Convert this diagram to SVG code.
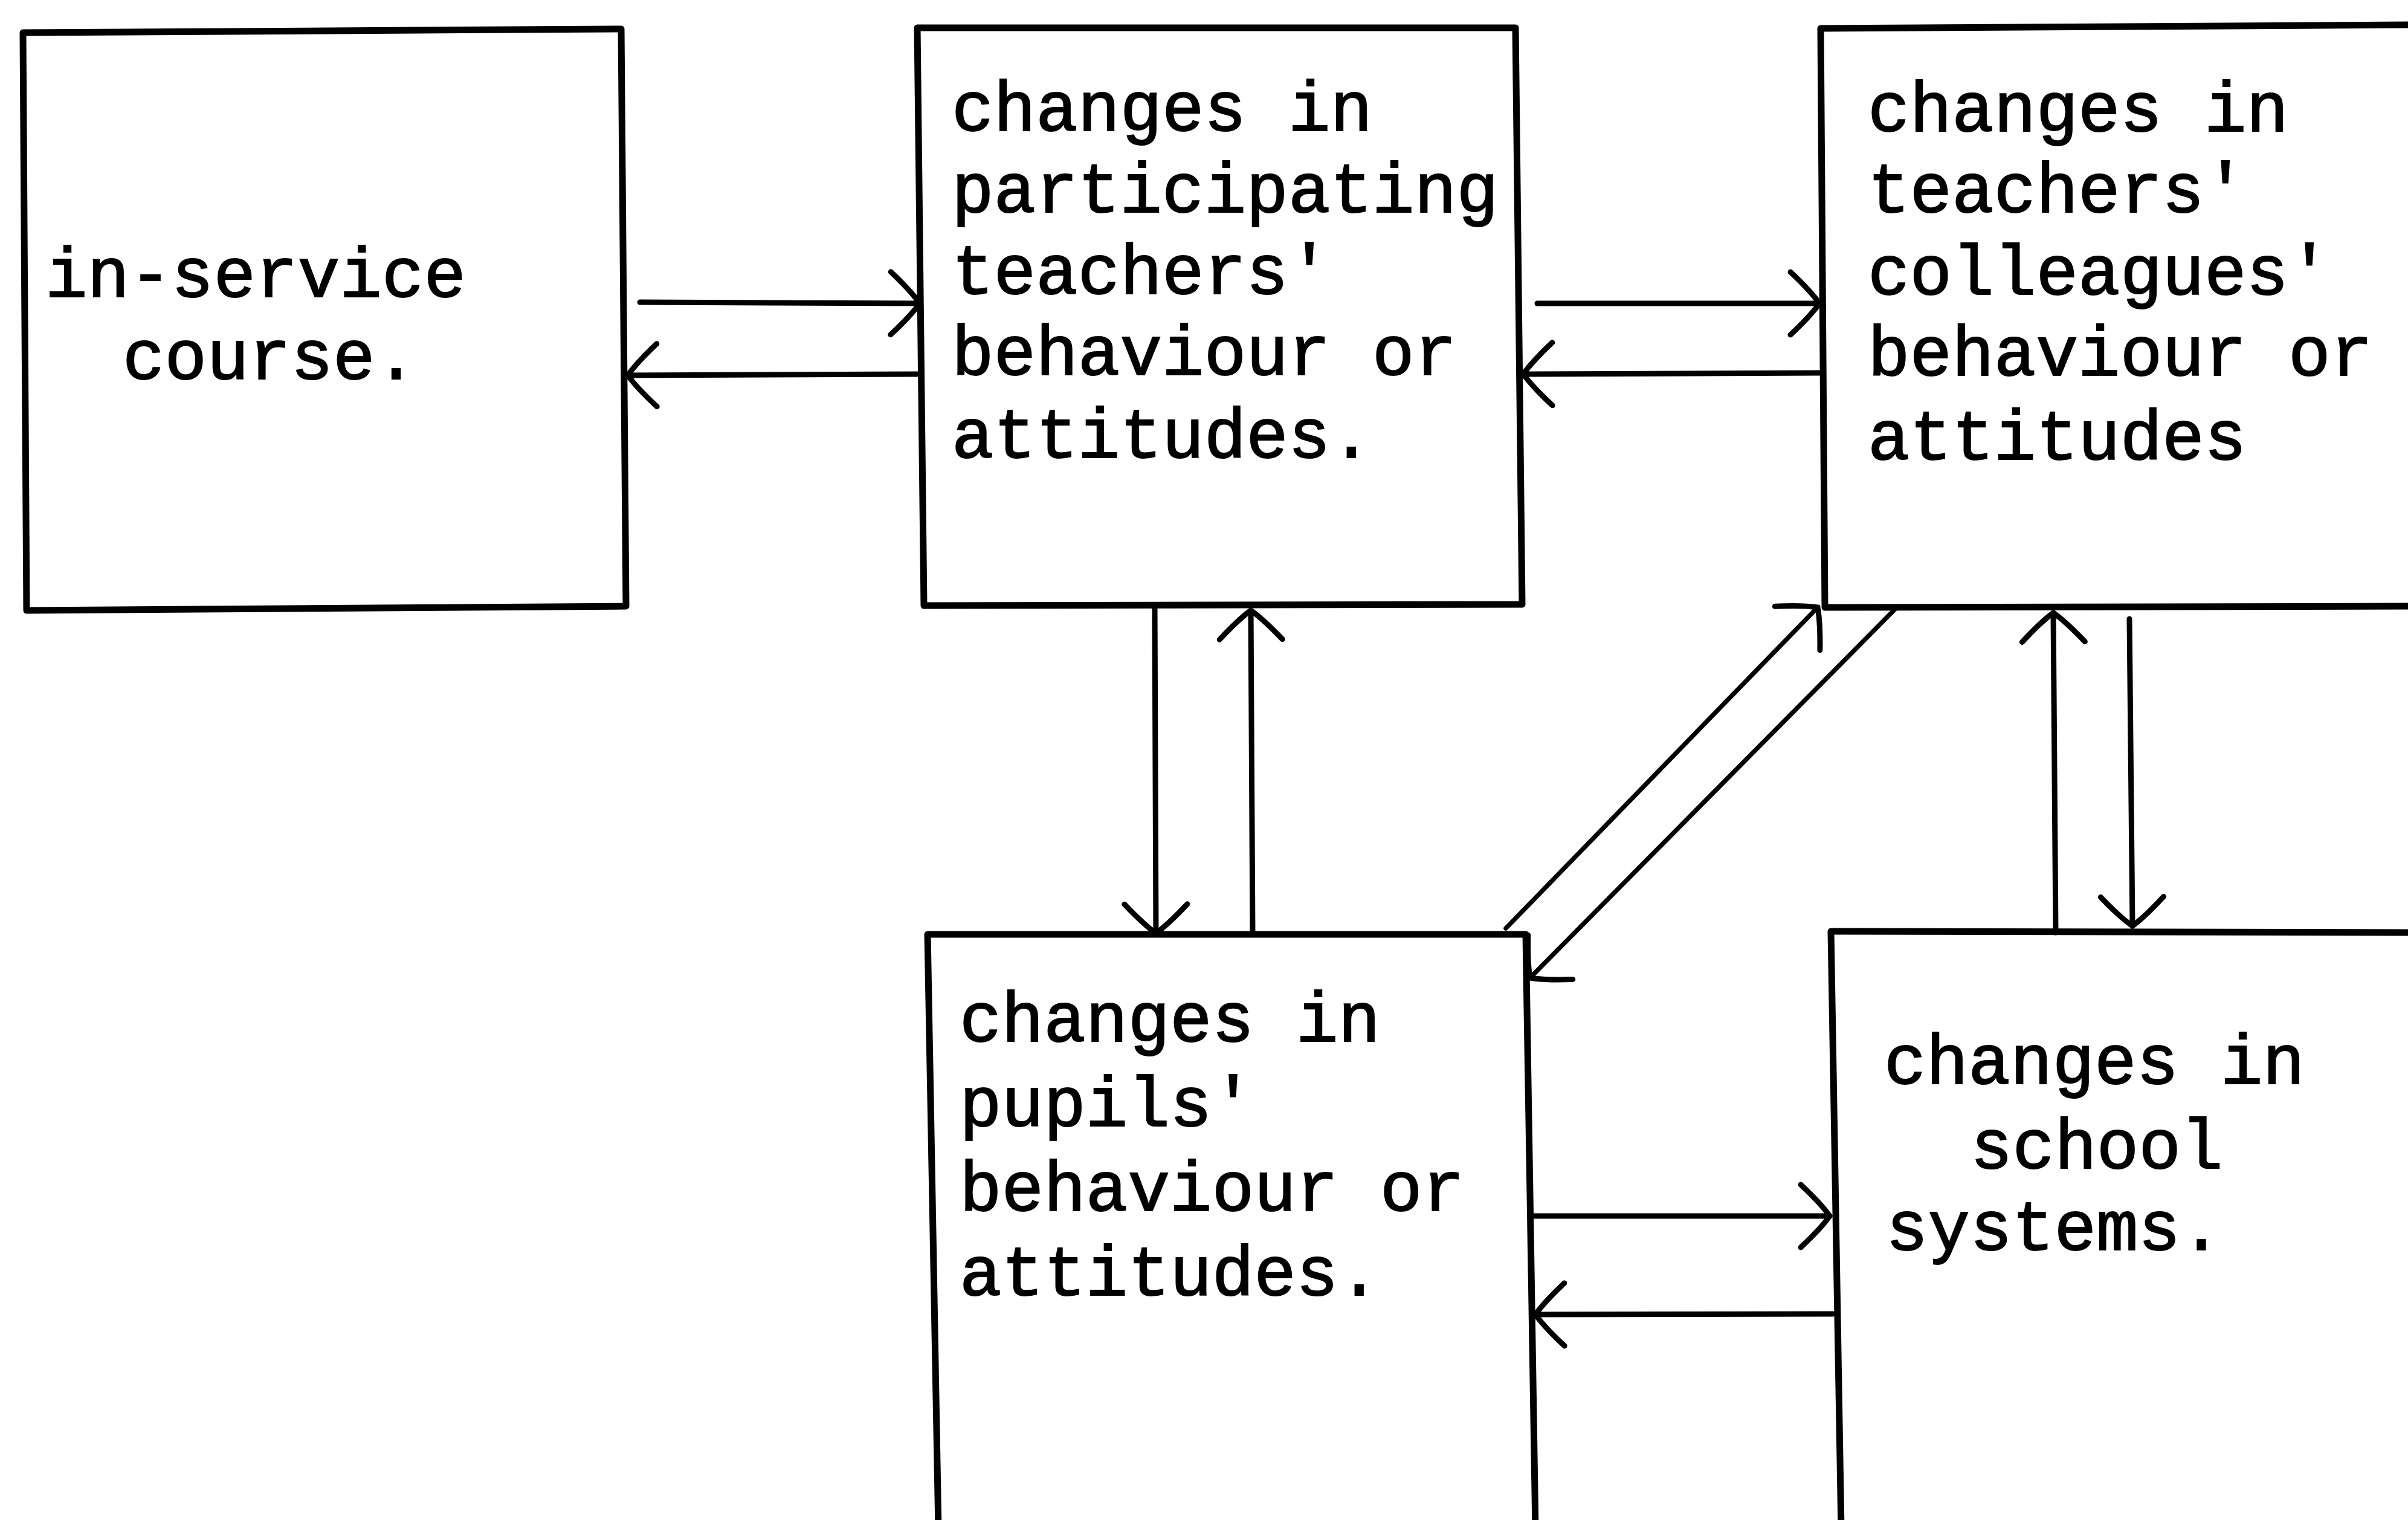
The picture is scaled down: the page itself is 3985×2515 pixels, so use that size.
<svg xmlns="http://www.w3.org/2000/svg" width="3985" height="2515" viewBox="0 0 3985 2515">
<style>
.box { fill: none; stroke: #000; stroke-width: 11; stroke-linejoin: round; }
.t { font-family: "Liberation Mono", "Courier New", monospace; font-size: 116px; font-weight: normal; fill: #000; stroke: #000; stroke-width: 2; }
.c { fill: none; stroke: #000; stroke-width: 9; stroke-linecap: round; }
.d { fill: none; stroke: #000; stroke-width: 7.5; stroke-linecap: round; }
</style>
<defs>
<marker id="ah" markerUnits="userSpaceOnUse" markerWidth="120" markerHeight="140" viewBox="-70 -70 90 140" refX="0" refY="0" orient="auto" overflow="visible">
<path d="M-48,-52 Q-14,-20 0,0 Q-14,20 -48,52" fill="none" stroke="#000" stroke-width="9" stroke-linecap="round"/>
</marker>
</defs>
<rect width="3985" height="2515" fill="#fff"/>

<g id="node-inservice">
<path class="box" d="M38,54 L1028,48 L1036,1003 L44,1010 Z"/>
<text class="t" x="75" y="491">in-service</text>
<text class="t" x="203" y="627">course.</text>
</g>

<g id="node-participating">
<path class="box" d="M1518,46 L2508,46 L2519,1000 L1529,1002 Z"/>
<text class="t" x="1575" y="216">changes in</text>
<text class="t" x="1575" y="351">participating</text>
<text class="t" x="1575" y="486">teachers'</text>
<text class="t" x="1575" y="620">behaviour or</text>
<text class="t" x="1575" y="757">attitudes.</text>
</g>

<g id="node-colleagues">
<path class="box" d="M4000,41 L3013,47 L3020,1005 L4000,1003"/>
<text class="t" x="3091" y="217">changes in</text>
<text class="t" x="3091" y="351">teachers'</text>
<text class="t" x="3091" y="487">colleagues'</text>
<text class="t" x="3091" y="621">behaviour or</text>
<text class="t" x="3091" y="760">attitudes</text>
</g>

<g id="node-pupils">
<path class="box" d="M1553,2530 L1535,1546 L2525,1546 L2541,2530"/>
<text class="t" x="1588" y="1723">changes in</text>
<text class="t" x="1588" y="1863">pupils'</text>
<text class="t" x="1588" y="2003">behaviour or</text>
<text class="t" x="1588" y="2143">attitudes.</text>
</g>

<g id="node-school">
<path class="box" d="M3047,2530 L3030,1541 L4000,1543"/>
<text class="t" x="3118" y="1793">changes in</text>
<text class="t" x="3261" y="1933">school</text>
<text class="t" x="3121" y="2068">systems.</text>
</g>

<g id="connectors">
<line class="c" x1="1059" y1="500" x2="1522" y2="502" marker-end="url(#ah)"/>
<line class="c" x1="1518" y1="619" x2="1039" y2="621" marker-end="url(#ah)"/>
<line class="c" x1="2544" y1="502" x2="3011" y2="502" marker-end="url(#ah)"/>
<line class="c" x1="3013" y1="617" x2="2521" y2="619" marker-end="url(#ah)"/>
<line class="c" x1="1911" y1="1002" x2="1913" y2="1544" marker-end="url(#ah)"/>
<line class="c" x1="2073" y1="1546" x2="2070" y2="1010" marker-end="url(#ah)"/>
<line class="d" x1="2492" y1="1536" x2="3008" y2="1005" marker-end="url(#ah)"/>
<line class="d" x1="3137" y1="1007" x2="2532" y2="1618" marker-end="url(#ah)"/>
<line class="c" x1="3402" y1="1543" x2="3398" y2="1014" marker-end="url(#ah)"/>
<line class="c" x1="3524" y1="1024" x2="3529" y2="1532" marker-end="url(#ah)"/>
<line class="c" x1="2533" y1="2012" x2="3028" y2="2012" marker-end="url(#ah)"/>
<line class="c" x1="3033" y1="2174" x2="2541" y2="2175" marker-end="url(#ah)"/>
</g>
</svg>
